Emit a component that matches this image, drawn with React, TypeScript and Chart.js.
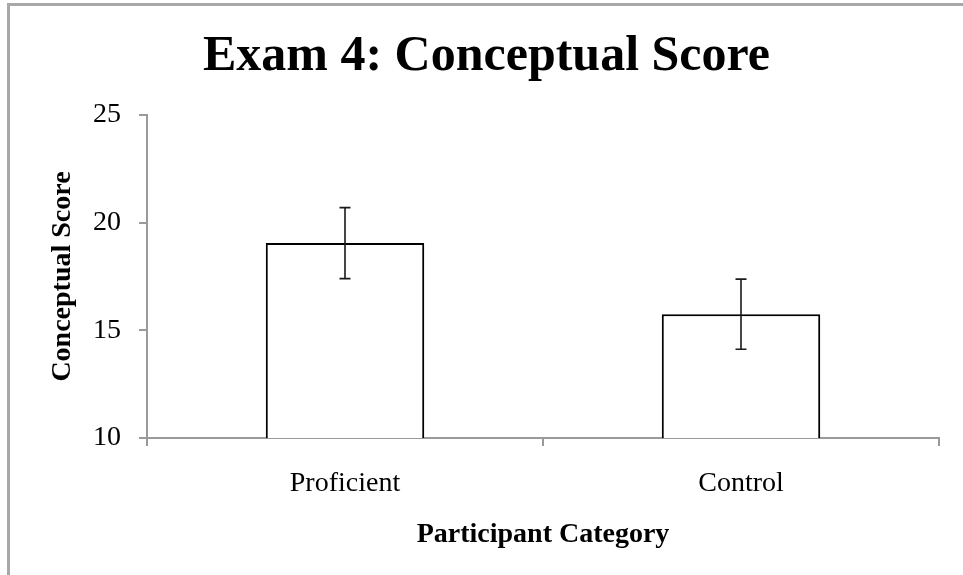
import React, { useEffect, useRef } from "react";
import { Chart, registerables } from "chart.js";

Chart.register(...registerables);

const categories = ["Proficient", "Control"];
const meanScores = [19.05, 15.75];
const errorMargins = [1.65, 1.63];
const yTicks = [10, 15, 20, 25];

const FONT = "'Liberation Serif', 'Times New Roman', serif";

const barShadowPlugin = {
  id: "barShadow",
  beforeDatasetsDraw(chart: any) {
    const { ctx } = chart;
    ctx.save();
    ctx.shadowColor = "rgba(0,0,0,0.25)";
    ctx.shadowBlur = 4;
    ctx.shadowOffsetX = 1.5;
    ctx.shadowOffsetY = 1.5;
  },
  afterDatasetsDraw(chart: any) {
    chart.ctx.restore();
  },
};

const errorBarPlugin = {
  id: "errorBars",
  afterDatasetsDraw(chart: any) {
    const { ctx, scales } = chart;
    const meta = chart.getDatasetMeta(0);
    ctx.save();
    ctx.strokeStyle = "#1a1a1a";
    ctx.lineWidth = 1.6;
    meta.data.forEach((bar: any, i: number) => {
      const x = bar.x;
      const hi = scales.y.getPixelForValue(meanScores[i] + errorMargins[i]);
      const lo = scales.y.getPixelForValue(meanScores[i] - errorMargins[i]);
      const cap = 5.5;
      ctx.beginPath();
      ctx.moveTo(x, hi);
      ctx.lineTo(x, lo);
      ctx.moveTo(x - cap, hi);
      ctx.lineTo(x + cap, hi);
      ctx.moveTo(x - cap, lo);
      ctx.lineTo(x + cap, lo);
      ctx.stroke();
    });
    ctx.restore();
  },
};

export default function App() {
  const canvasRef = useRef<HTMLCanvasElement | null>(null);

  useEffect(() => {
    if (!canvasRef.current) return;
    const chart = new Chart(canvasRef.current, {
      type: "bar",
      data: {
        labels: categories,
        datasets: [
          {
            data: meanScores,
            backgroundColor: "#ffffff",
            borderColor: "#000000",
            borderWidth: 2,
            barPercentage: 0.4,
            categoryPercentage: 1,
          },
        ],
      },
      options: {
        animation: false,
        responsive: false,
        devicePixelRatio: 1,
        layout: { padding: { left: 34, right: 24, top: 0, bottom: 0 } },
        plugins: {
          legend: { display: false },
          tooltip: { enabled: false },
          title: {
            display: true,
            text: "Exam 4: Conceptual Score",
            color: "#000",
            font: { family: FONT, size: 50, weight: "bold" },
            padding: { top: 27, bottom: 28 },
          },
        },
        scales: {
          x: {
            grid: {
              display: true,
              drawOnChartArea: false,
              drawTicks: true,
              tickLength: 8,
              color: "#9a9a9a",
              lineWidth: 2,
            },
            border: { display: true, color: "#9a9a9a", width: 2 },
            ticks: {
              color: "#000",
              font: { family: FONT, size: 28 },
              padding: 21,
            },
            title: {
              display: true,
              text: "Participant Category",
              color: "#000",
              font: { family: FONT, size: 28, weight: "bold" },
              padding: { top: 0, bottom: 23 },
            },
            afterFit(scale: any) {
              scale.height = 137;
            },
          },
          y: {
            min: 10,
            max: 25,
            afterBuildTicks(scale: any) {
              scale.ticks = yTicks.map((v) => ({ value: v }));
            },
            grid: {
              display: true,
              drawOnChartArea: false,
              drawTicks: true,
              tickLength: 8,
              color: "#9a9a9a",
              lineWidth: 2,
            },
            border: { display: true, color: "#9a9a9a", width: 2 },
            ticks: {
              color: "#000",
              font: { family: FONT, size: 28 },
              padding: 18,
            },
            title: {
              display: true,
              text: "Conceptual Score",
              color: "#000",
              font: { family: FONT, size: 28, weight: "bold" },
              padding: { top: 12, bottom: 0 },
            },
            afterFit(scale: any) {
              scale.width = 113;
            },
          },
        },
      },
      plugins: [barShadowPlugin, errorBarPlugin],
    });
    return () => chart.destroy();
  }, []);

  return (
    <div
      style={{
        position: "fixed",
        left: 0,
        top: 0,
        width: 963,
        height: 575,
        background: "#ffffff",
        overflow: "hidden",
      }}
    >
      <canvas
        ref={canvasRef}
        width={963}
        height={575}
        style={{ position: "absolute", left: 0, top: 0, width: 963, height: 575 }}
      />
      <div
        style={{
          position: "absolute",
          left: 7,
          top: 3,
          width: 963,
          height: 575,
          borderTop: "3px solid #a8a8a8",
          borderLeft: "3px solid #a8a8a8",
          pointerEvents: "none",
        }}
      />
    </div>
  );
}
